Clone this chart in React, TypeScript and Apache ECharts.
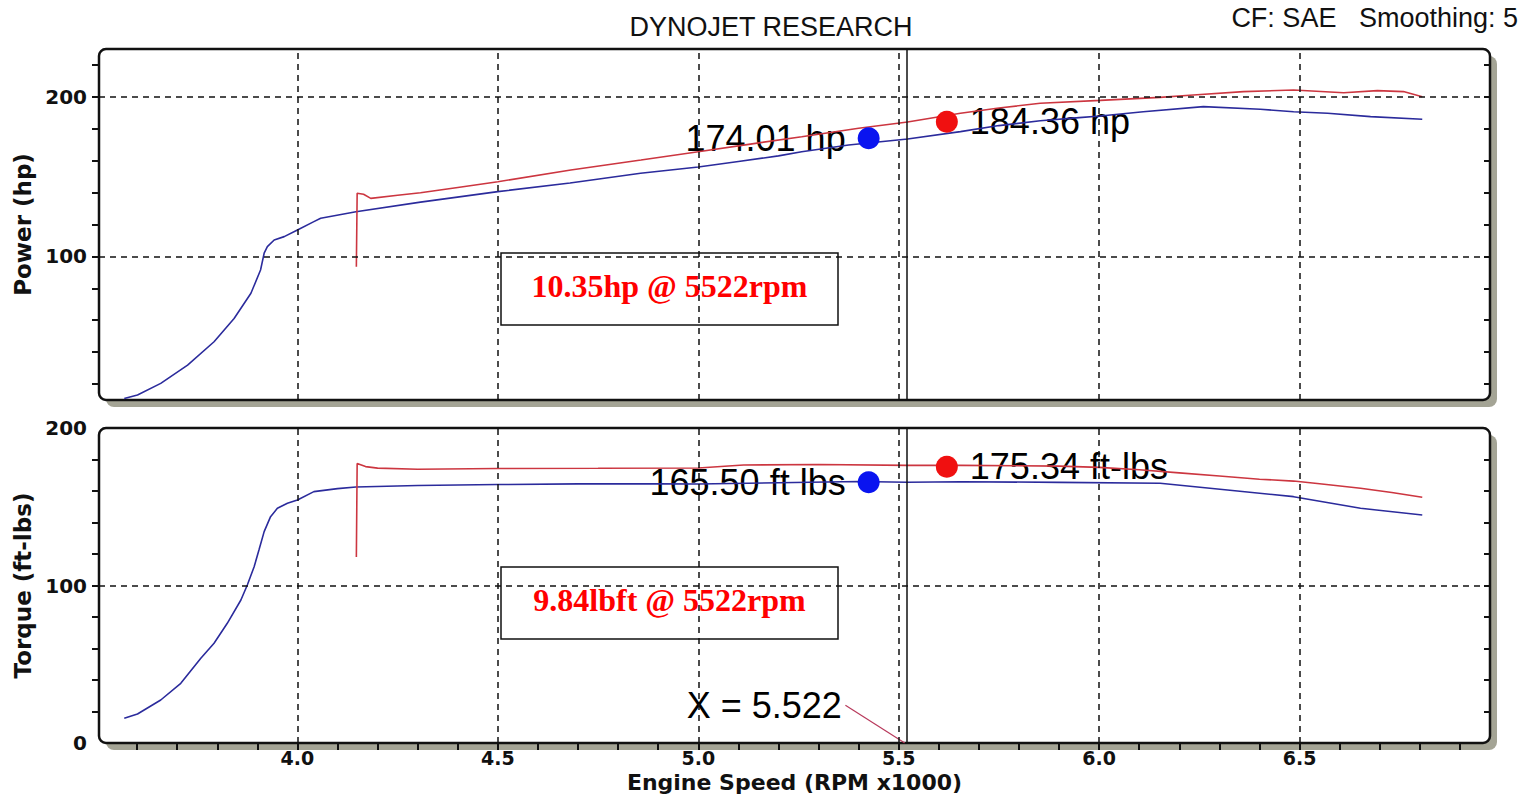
import React, { useEffect, useRef } from "react";
import * as echarts from "echarts";

// ---------- data (RPM x1000) ----------
const rpmBluePower = [3.568, 3.601, 3.659, 3.726, 3.792, 3.842, 3.884, 3.908, 3.917, 3.925, 3.942, 3.967, 4.0, 4.041, 4.058, 4.146, 4.307, 4.5, 4.68, 4.856, 5.0, 5.1, 5.2, 5.258, 5.375, 5.522, 5.654, 5.75, 5.853, 5.95, 6.003, 6.11, 6.26, 6.402, 6.485, 6.57, 6.677, 6.806];
const bluePower = [11.0, 13.1, 20.4, 31.9, 46.5, 61.1, 76.9, 91.5, 102.0, 106.1, 110.3, 112.4, 116.6, 121.8, 123.9, 128.0, 134.0, 140.6, 146.0, 152.1, 156.0, 159.5, 163.0, 165.6, 169.8, 173.6, 178.2, 182.0, 185.0, 187.0, 188.0, 190.7, 193.9, 192.2, 190.7, 189.7, 187.6, 186.0];

const rpmRedPower = [4.147, 4.149, 4.165, 4.183, 4.25, 4.307, 4.4, 4.5, 4.682, 4.857, 5.0, 5.13, 5.258, 5.4, 5.522, 5.654, 5.75, 5.853, 6.003, 6.152, 6.235, 6.36, 6.485, 6.61, 6.694, 6.759, 6.806];
const redPower = [93.5, 139.6, 139.0, 136.4, 138.3, 139.9, 143.2, 146.8, 154.2, 160.4, 165.6, 170.4, 175.0, 180.3, 184.2, 189.7, 193.0, 196.0, 197.8, 199.7, 201.2, 203.3, 204.3, 202.6, 203.9, 203.3, 200.1];

const rpmBlueTorque = [3.568, 3.601, 3.659, 3.709, 3.759, 3.792, 3.825, 3.859, 3.875, 3.892, 3.904, 3.917, 3.933, 3.95, 3.975, 4.0, 4.041, 4.1, 4.146, 4.3, 4.5, 4.7, 4.9, 5.0, 5.2, 5.4, 5.522, 5.654, 5.9, 6.152, 6.32, 6.485, 6.652, 6.806];
const blueTorque = [15.7, 18.4, 27.3, 37.9, 53.8, 63.3, 76.0, 90.8, 100.3, 111.9, 122.5, 134.2, 143.7, 149.0, 152.2, 154.3, 159.6, 161.5, 162.5, 163.5, 164.1, 164.5, 164.6, 164.4, 165.2, 166.0, 165.6, 165.9, 165.5, 164.9, 160.6, 156.4, 149.0, 144.8];

const rpmRedTorque = [4.147, 4.149, 4.17, 4.2, 4.3, 4.5, 4.75, 5.0, 5.113, 5.3, 5.522, 5.654, 5.9, 6.0, 6.1, 6.2, 6.3, 6.4, 6.485, 6.55, 6.652, 6.73, 6.806];
const redTorque = [118.1, 177.5, 175.5, 174.5, 173.8, 174.3, 174.4, 174.6, 176.5, 176.8, 176.3, 176.3, 175.8, 175.0, 173.5, 171.5, 169.5, 167.5, 166.3, 164.6, 161.7, 159.0, 156.0];

// cursor / markers
const cursorRpm = 5.522;
const markerRpm = [5.425, 5.62]; // blue marker, red marker
const powerMarkers = [174.01, 184.36];
const torqueMarkers = [165.5, 175.34];
const powerMarkerLabels = ["174.01 hp", "184.36 hp"];
const torqueMarkerLabels = ["165.50 ft lbs", "175.34 ft-lbs"];
const pointerRpm = [5.367, 5.515];
const pointerTorque = [24, 0];

// axes / ticks
const xMin = 3.505;
const xMax = 6.975;
const xTickValues = [3.6, 3.7, 3.8, 3.9, 4.0, 4.1, 4.2, 4.3, 4.4, 4.5, 4.6, 4.7, 4.8, 4.9, 5.0, 5.1, 5.2, 5.3, 5.4, 5.5, 5.6, 5.7, 5.8, 5.9, 6.0, 6.1, 6.2, 6.3, 6.4, 6.5, 6.6, 6.7, 6.8, 6.9];
const xLabelValues = [4.0, 4.5, 5.0, 5.5, 6.0, 6.5];
const powerMin = 10;
const powerMax = 230;
const powerTickValues = [20, 40, 60, 80, 100, 120, 140, 160, 180, 200, 220];
const powerLabelValues = [100, 200];
const torqueMin = 0;
const torqueMax = 200;
const torqueTickValues = [20, 40, 60, 80, 100, 120, 140, 160, 180];
const torqueLabelValues = [0, 100, 200];
const powerGridValues = [100, 200];
const torqueGridValues = [100];

const BLUE = "#2b2b9c";
const RED = "#cc3640";
const DOT_BLUE = "#0a14f0";
const DOT_RED = "#f01010";

const zip = (a: number[], b: number[]) => a.map((v, i) => [v, b[i]]);

const G0 = { left: 99, top: 49, width: 1391, height: 351 };
const G1 = { left: 99, top: 428, width: 1391, height: 315 };

function frame(g: { left: number; top: number; width: number; height: number }) {
  return [
    {
      type: "rect",
      z: -20,
      silent: true,
      shape: { x: g.left + 7, y: g.top + 7, width: g.width, height: g.height, r: 8 },
      style: { fill: "#a4a495" },
    },
    {
      type: "rect",
      z: -10,
      silent: true,
      shape: { x: g.left, y: g.top, width: g.width, height: g.height, r: 7 },
      style: { fill: "#ffffff", stroke: "#111", lineWidth: 2.5 },
    },
  ];
}

function noteBox(x: number, y: number, w: number, h: number, text: string) {
  return {
    type: "group",
    z: 100,
    children: [
      {
        type: "rect",
        shape: { x, y, width: w, height: h },
        style: { fill: "#ffffff", stroke: "#111", lineWidth: 1.5 },
      },
      {
        type: "text",
        x: x + w / 2,
        y: y + h / 2 - 3,
        style: {
          text,
          fill: "#ff0000",
          font: 'bold 32px "Liberation Serif", "Times New Roman", serif',
          align: "center",
          verticalAlign: "middle",
        },
      },
    ],
  };
}

const gridMarkLine = (yVals: number[]) => ({
  silent: true,
  symbol: ["none", "none"],
  label: { show: false },
  lineStyle: { color: "#111", width: 1.5, type: [6, 5] },
  data: [
    ...xLabelValues.map((v) => ({ xAxis: v })),
    ...yVals.map((v) => ({ yAxis: v })),
    { xAxis: cursorRpm, lineStyle: { type: "solid", color: "#111", width: 1.5 } },
  ],
});

const axisFont = { fontFamily: '"DejaVu Sans", Verdana, sans-serif', fontWeight: "bold" as const, color: "#111" };
const noteFont = { fontFamily: '"Liberation Sans", Arial, sans-serif', fontSize: 36, color: "#000000", opacity: 1 };

function markerSeries(name: string, yIdx: number, xIdx: number, values: number[], labels: string[]) {
  return [
    {
      name: name + " labels",
      type: "scatter",
      xAxisIndex: xIdx,
      yAxisIndex: yIdx,
      symbolSize: 22,
      z: 2,
      itemStyle: { color: "rgba(0,0,0,0)", opacity: 1 },
      data: markerRpm.map((x, i) => ({
        value: [x, values[i]],
        label: {
          show: true,
          position: i === 0 ? "left" : "right",
          distance: 12,
          formatter: labels[i],
          ...noteFont,
        },
      })),
    },
    {
      name,
      type: "scatter",
      xAxisIndex: xIdx,
      yAxisIndex: yIdx,
      symbolSize: 22,
      z: 6,
      data: markerRpm.map((x, i) => ({
        value: [x, values[i]],
        itemStyle: { color: i === 0 ? DOT_BLUE : DOT_RED, opacity: 1 },
      })),
    },
  ];
}

export default function App() {
  const ref = useRef<HTMLDivElement>(null);

  useEffect(() => {
    if (!ref.current) return;
    const chart = echarts.init(ref.current, undefined, { renderer: "svg" });

    const option: any = {
      animation: false,
      backgroundColor: "#ffffff",
      grid: [
        { ...G0, containLabel: false },
        { ...G1, containLabel: false },
      ],
      xAxis: [
        {
          type: "value",
          gridIndex: 0,
          min: xMin,
          max: xMax,
          axisLine: { show: false },
          axisTick: { show: false },
          axisLabel: { show: false },
          splitLine: { show: false },
        },
        {
          type: "value",
          gridIndex: 1,
          min: xMin,
          max: xMax,
          name: "Engine Speed (RPM x1000)",
          nameLocation: "middle",
          nameGap: 28,
          nameTextStyle: { ...axisFont, fontSize: 22, verticalAlign: "top" },
          axisLine: { show: false },
          axisTick: { show: true, length: 7, customValues: xTickValues, lineStyle: { color: "#111", width: 2 } },
          axisLabel: {
            show: true,
            customValues: xLabelValues,
            formatter: (v: number) => v.toFixed(1),
            margin: 5,
            fontSize: 19,
            ...axisFont,
          },
          splitLine: { show: false },
        },
        {
          type: "value",
          gridIndex: 1,
          min: xMin,
          max: xMax,
          axisLine: { show: false },
          axisTick: { show: true, inside: true, length: 6, customValues: xTickValues, lineStyle: { color: "#111", width: 2 } },
          axisLabel: { show: false },
          splitLine: { show: false },
        },
      ],
      yAxis: [
        {
          type: "value",
          gridIndex: 0,
          min: powerMin,
          max: powerMax,
          name: "Power (hp)",
          nameLocation: "middle",
          nameGap: 65,
          nameRotate: 90,
          nameTextStyle: { ...axisFont, fontSize: 23 },
          axisLine: { show: false },
          axisTick: { show: true, length: 7, customValues: powerTickValues, lineStyle: { color: "#111", width: 2 } },
          axisLabel: { show: true, customValues: powerLabelValues, margin: 12, fontSize: 20, ...axisFont },
          splitLine: { show: false },
        },
        {
          type: "value",
          gridIndex: 0,
          min: powerMin,
          max: powerMax,
          axisLine: { show: false },
          axisTick: { show: true, inside: true, length: 6, customValues: powerTickValues, lineStyle: { color: "#111", width: 2 } },
          axisLabel: { show: false },
          splitLine: { show: false },
        },
        {
          type: "value",
          gridIndex: 1,
          min: torqueMin,
          max: torqueMax,
          name: "Torque (ft-lbs)",
          nameLocation: "middle",
          nameGap: 65,
          nameRotate: 90,
          nameTextStyle: { ...axisFont, fontSize: 23 },
          axisLine: { show: false },
          axisTick: { show: true, length: 7, customValues: torqueTickValues, lineStyle: { color: "#111", width: 2 } },
          axisLabel: { show: true, customValues: torqueLabelValues, margin: 12, fontSize: 20, ...axisFont },
          splitLine: { show: false },
        },
        {
          type: "value",
          gridIndex: 1,
          min: torqueMin,
          max: torqueMax,
          axisLine: { show: false },
          axisTick: { show: true, inside: true, length: 6, customValues: torqueTickValues, lineStyle: { color: "#111", width: 2 } },
          axisLabel: { show: false },
          splitLine: { show: false },
        },
      ],
      series: [
        {
          name: "Power run 1",
          type: "line",
          xAxisIndex: 0,
          yAxisIndex: 0,
          data: zip(rpmBluePower, bluePower),
          symbol: "none",
          lineStyle: { color: BLUE, width: 1.6 },
          z: 4,
          markLine: gridMarkLine(powerGridValues),
        },
        {
          name: "Power run 2",
          type: "line",
          xAxisIndex: 0,
          yAxisIndex: 0,
          data: zip(rpmRedPower, redPower),
          symbol: "none",
          lineStyle: { color: RED, width: 1.6 },
          z: 4,
        },
        {
          name: "Torque run 1",
          type: "line",
          xAxisIndex: 1,
          yAxisIndex: 2,
          data: zip(rpmBlueTorque, blueTorque),
          symbol: "none",
          lineStyle: { color: BLUE, width: 1.6 },
          z: 4,
          markLine: gridMarkLine(torqueGridValues),
        },
        {
          name: "Torque run 2",
          type: "line",
          xAxisIndex: 1,
          yAxisIndex: 2,
          data: zip(rpmRedTorque, redTorque),
          symbol: "none",
          lineStyle: { color: RED, width: 1.6 },
          z: 4,
        },
        ...markerSeries("Power markers", 0, 0, powerMarkers, powerMarkerLabels),
        ...markerSeries("Torque markers", 2, 1, torqueMarkers, torqueMarkerLabels),
        {
          name: "Cursor pointer",
          type: "line",
          xAxisIndex: 1,
          yAxisIndex: 2,
          data: zip(pointerRpm, pointerTorque),
          symbol: "none",
          lineStyle: { color: "#b83a5c", width: 1.2 },
          z: 4,
        },
        {
          name: "Cursor label",
          type: "scatter",
          xAxisIndex: 1,
          yAxisIndex: 2,
          symbolSize: 1,
          itemStyle: { color: "rgba(0,0,0,0)", opacity: 1 },
          z: 2,
          data: [
            {
              value: [pointerRpm[0], pointerTorque[0]],
              label: {
                show: true,
                position: "left",
                distance: 3,
                formatter: "X = " + cursorRpm.toFixed(3),
                ...noteFont,
              },
            },
          ],
        },
      ],
      graphic: [
        ...frame(G0),
        ...frame(G1),
        noteBox(501, 253, 337, 72, "10.35hp @ 5522rpm"),
        noteBox(501, 567, 337, 72, "9.84lbft @ 5522rpm"),
        {
          type: "text",
          x: 771,
          y: 27,
          style: {
            text: "DYNOJET RESEARCH",
            fill: "#111",
            font: '500 27px "Liberation Sans", Arial, sans-serif',
            align: "center",
            verticalAlign: "middle",
          },
        },
        {
          type: "text",
          x: 1518,
          y: 18,
          style: {
            text: "CF: SAE   Smoothing: 5",
            fill: "#111",
            font: '500 27px "Liberation Sans", Arial, sans-serif',
            align: "right",
            verticalAlign: "middle",
          },
        },
      ],
    };

    chart.setOption(option);
    return () => chart.dispose();
  }, []);

  return (
    <div
      ref={ref}
      style={{ position: "fixed", left: 0, top: 0, width: 1538, height: 798, background: "#fff" }}
    />
  );
}
